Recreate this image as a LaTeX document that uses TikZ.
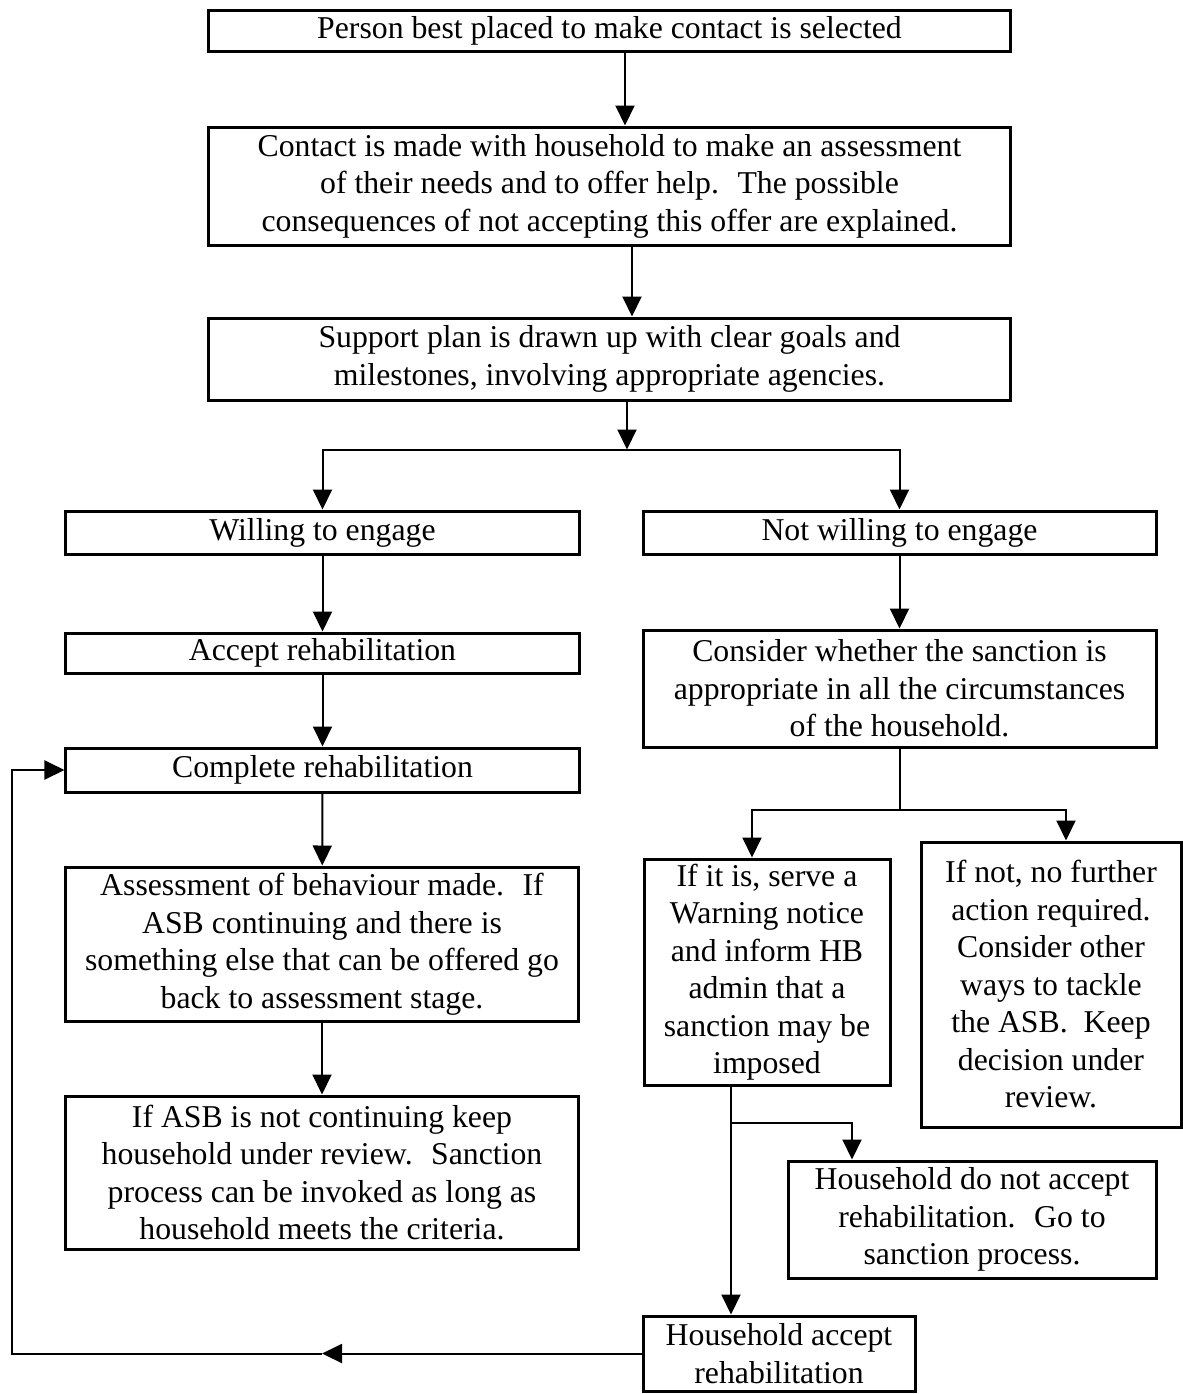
\documentclass[tikz,border=0pt]{standalone}
\usepackage{fontspec}
\setmainfont{Liberation Serif}
\usetikzlibrary{arrows.meta}
\tikzset{
  box/.style={draw, line width=1.2pt, align=center, inner sep=0pt,
    font=\fontsize{12.7pt}{15pt}\selectfont},
  arr/.style={-{Triangle[length=8pt, width=7.6pt]}, line width=0.8pt},
  link/.style={line width=0.8pt},
}

\begin{document}
\begin{tikzpicture}[x=0.4pt, y=-0.4pt]
  \useasboundingbox (0,0) rectangle (1183,1394);
  % common trunk
  \node[box, minimum width=320.4pt, minimum height=16.4pt] (sel) at (609.5,30.5)
    {Person best placed to make contact is selected};
  \node[box, minimum width=320.4pt, minimum height=47.2pt] (contact) at (609.5,186)
    {Contact is made with household to make an assessment\\
     of their needs and to offer help.~ The possible\\
     consequences of not accepting this offer are explained.};
  \node[box, minimum width=320.4pt, minimum height=32.8pt] (plan) at (609.5,359)
    {Support plan is drawn up with clear goals and\\
     milestones, involving appropriate agencies.};
  % willing branch
  \node[box, minimum width=205.2pt, minimum height=17.2pt] (will) at (322.5,532.5)
    {Willing to engage};
  \node[box, minimum width=205.2pt, minimum height=16pt] (acc) at (322.5,653)
    {Accept rehabilitation};
  \node[box, minimum width=205.2pt, minimum height=17.6pt] (comp) at (322.5,770)
    {Complete rehabilitation};
  \node[box, minimum width=204.8pt, minimum height=61.6pt] (assess) at (322,944)
    {Assessment of behaviour made.~ If\\
     ASB continuing and there is\\
     something else that can be offered go\\
     back to assessment stage.};
  \node[box, minimum width=204.8pt, minimum height=61.2pt] (review) at (322,1172.5)
    {If ASB is not continuing keep\\
     household under review.~ Sanction\\
     process can be invoked as long as\\
     household meets the criteria.};
  % not willing branch
  \node[box, minimum width=205.2pt, minimum height=17.2pt] (notwill) at (899.5,532.5)
    {Not willing to engage};
  \node[box, minimum width=205.2pt, minimum height=46.8pt] (consider) at (899.5,688.5)
    {Consider whether the sanction is\\
     appropriate in all the circumstances\\
     of the household.};
  \node[box, minimum width=98.4pt, minimum height=90.4pt] (warn) at (767,972)
    {If it is, serve a\\ Warning notice\\ and inform HB\\ admin that a\\
     sanction may be\\ imposed};
  \node[box, minimum width=104pt, minimum height=114pt] (nfa) at (1051,984.5)
    {If not, no further\\ action required.\\ Consider other\\ ways to tackle\\
     the ASB.~ Keep\\ decision under\\ review.};
  \node[box, minimum width=147.2pt, minimum height=46.8pt] (sanc) at (972,1219.5)
    {Household do not accept\\ rehabilitation.~ Go to\\ sanction process.};
  \node[box, minimum width=108.8pt, minimum height=30pt] (hacc) at (779,1353.5)
    {Household accept\\ rehabilitation};

  % connectors
  \draw[arr] ([xshift=6.2pt]sel.south) -- ([xshift=6.2pt]contact.north);
  \draw[arr] ([xshift=9pt]contact.south) -- ([xshift=9pt]plan.north);
  \draw[arr] ([xshift=7pt]plan.south) -- ++(0,48) coordinate (fork);
  \draw[arr] (fork) -| (will.north);
  \draw[arr] (fork) -| (notwill.north);
  \draw[arr] (will) -- (acc);
  \draw[arr] (acc) -- (comp);
  \draw[arr] (comp) -- (assess);
  \draw[arr] (assess) -- (review);
  \draw[arr] (notwill) -- (consider);
  \draw[link] (consider.south) -- ++(0,61) coordinate (split);
  \draw[arr] (split) -| ([xshift=-6pt]warn.north);
  \draw[arr] (split) -| ([xshift=6pt]nfa.north);
  \draw[arr] ([xshift=-14.4pt]warn.south) -- ([xshift=-14.4pt]warn.south |- hacc.north);
  \draw[arr] ([xshift=-14.4pt,yshift=-14.4pt]warn.south) coordinate (split2)
    -| ([xshift=-48pt]sanc.north);
  % loop back to complete rehabilitation
  \coordinate (mid) at (322,1353.5);
  \coordinate (corner) at (12,1353.5);
  \draw[arr] (hacc.west) -- (mid);
  \draw[arr] (mid) -- (corner) |- (comp.west);
\end{tikzpicture}
\end{document}
